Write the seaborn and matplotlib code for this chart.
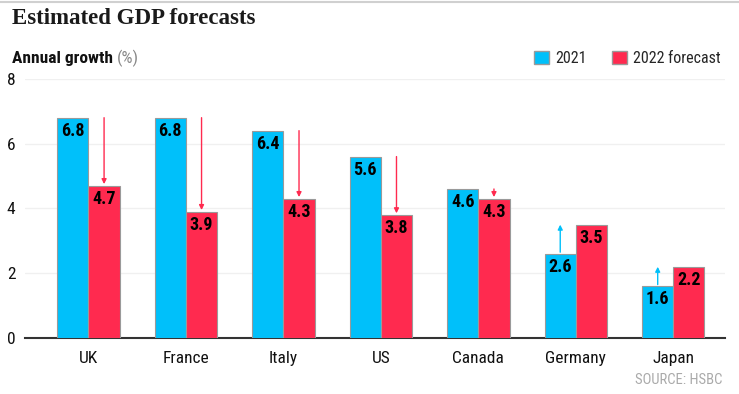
import pandas as pd
import matplotlib.pyplot as plt
import seaborn as sns
from matplotlib.patches import Patch
from matplotlib import font_manager

# ----------------------------------------------------------------------
# data
# ----------------------------------------------------------------------
COUNTRIES = ['UK', 'France', 'Italy', 'US', 'Canada', 'Germany', 'Japan']
GROWTH_2021 = [6.8, 6.8, 6.4, 5.6, 4.6, 2.6, 1.6]
GROWTH_2022 = [4.7, 3.9, 4.3, 3.8, 4.3, 3.5, 2.2]
SERIES = ['2021', '2022 forecast']
Y_TICKS = [0, 2, 4, 6, 8]

BLUE = '#00c0fa'
RED = '#ff2a4f'

# pick a narrow font if one is around
names = {f.name for f in font_manager.fontManager.ttflist}
NARROW = [n for n in ['Liberation Sans Narrow', 'DejaVu Sans Condensed',
                      'Roboto Condensed', 'Open Sans Condensed'] if n in names]
NARROW = NARROW + ['DejaVu Sans']

df = pd.DataFrame({
    'country': COUNTRIES * 2,
    'growth': GROWTH_2021 + GROWTH_2022,
    'series': [SERIES[0]] * len(COUNTRIES) + [SERIES[1]] * len(COUNTRIES),
})

sns.set_style('white')
plt.rcParams['font.family'] = NARROW
plt.rcParams['font.stretch'] = 'condensed'

fig = plt.figure(figsize=(7.39, 3.94), dpi=100)
ax = fig.add_axes([0.034, 0.142, 0.947, 0.658])

sns.barplot(data=df, x='country', y='growth', hue='series',
            palette=[BLUE, RED], saturation=1, width=0.64, edgecolor='#9a9a9a',
            linewidth=0.8, legend=False, ax=ax, zorder=3)

ax.set_ylim(0, 8)
ax.set_xlim(-0.65, 6.53)
ax.set_yticks(Y_TICKS)
ax.set_yticklabels([str(t) for t in Y_TICKS])
ax.grid(axis='y', color='#f0f0f0', linewidth=1, zorder=0)
ax.set_xlabel('')
ax.set_ylabel('')
for s in ['top', 'right', 'left']:
    ax.spines[s].set_visible(False)
ax.spines['bottom'].set_color('#333333')
ax.spines['bottom'].set_linewidth(1.5)
ax.tick_params(axis='x', length=6, width=1, color='#555555', labelsize=12.5,
               pad=3, labelcolor='#111111')
ax.tick_params(axis='y', length=0, labelsize=12.5, pad=7, labelcolor='#111111')

# value labels + change arrows
n = len(COUNTRIES)
bars_a = ax.patches[:n]
bars_b = ax.patches[n:2 * n]
for pa, pb, a, b in zip(bars_a, bars_b, GROWTH_2021, GROWTH_2022):
    xa = pa.get_x() + pa.get_width() / 2
    xb = pb.get_x() + pb.get_width() / 2
    ax.text(xa, a - 0.13, f'{a:.1f}', ha='center', va='top',
            fontsize=13, fontweight='bold', color='black', zorder=5)
    ax.text(xb, b - 0.13, f'{b:.1f}', ha='center', va='top',
            fontsize=13, fontweight='bold', color='black', zorder=5)
    if b < a:
        ax.annotate('', xy=(xb, b + 0.05), xytext=(xb, a),
                    arrowprops=dict(arrowstyle='-|>', color=RED, lw=1,
                                    mutation_scale=7, shrinkA=0, shrinkB=0),
                    zorder=4)
    else:
        ax.annotate('', xy=(xa, b), xytext=(xa, a + 0.05),
                    arrowprops=dict(arrowstyle='-|>', color=BLUE, lw=1,
                                    mutation_scale=7, shrinkA=0, shrinkB=0),
                    zorder=4)

# titles and furniture
fig.add_artist(plt.Line2D([0.0, 1.0], [0.995, 0.995], color='#d0d0d0', lw=1.5))
fig.text(0.016, 0.952, 'Estimated GDP forecasts', fontsize=16.5, fontweight='heavy',
         family=['Liberation Serif', 'DejaVu Serif'], fontstretch='normal',
         color='#1a1a1a', va='center')
t = fig.text(0.016, 0.852, 'Annual growth ', fontsize=12.5, fontweight='bold',
             color='#111111', va='center')
fig.canvas.draw()
bb = t.get_window_extent().transformed(fig.transFigure.inverted())
fig.text(bb.x1, 0.852, '(%)', fontsize=12.5, color='#888888', va='center')

handles = [Patch(facecolor=BLUE, edgecolor='#9a9a9a', label=SERIES[0]),
           Patch(facecolor=RED, edgecolor='#9a9a9a', label=SERIES[1])]
fig.legend(handles=handles, loc='center right', bbox_to_anchor=(0.975, 0.852),
           ncol=2, frameon=False, fontsize=11.5, handlelength=0.9,
           handleheight=0.9, handletextpad=0.4, columnspacing=1.6,
           borderaxespad=0, borderpad=0)

fig.text(0.978, 0.035, 'SOURCE: HSBC', fontsize=10.5, color='#aaaaaa',
         ha='right', va='center')

fig.savefig('out.png', dpi=100)
